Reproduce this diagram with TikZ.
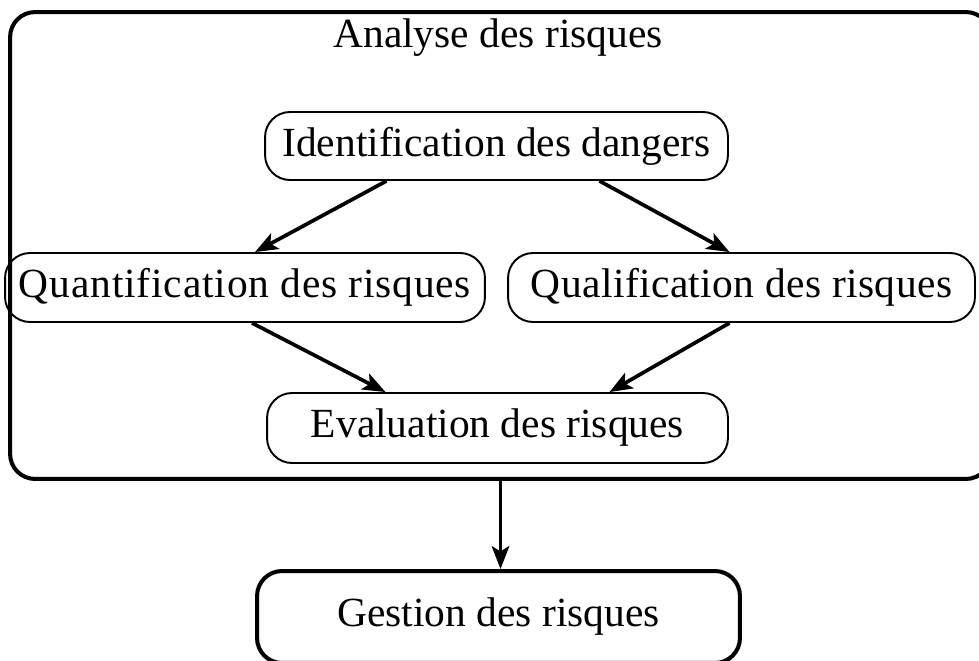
\documentclass[tikz,border=0pt]{standalone}
\usepackage{fontspec}
\setmainfont{Liberation Serif}
\usetikzlibrary{arrows.meta,calc}

\begin{document}
\begin{tikzpicture}[x=0.02cm,y=-0.02cm,
        font=\fontsize{23.6}{28}\selectfont,
        etape/.style={draw, line width=1.1pt, rounded corners=0.5cm, minimum height=1.38cm, inner sep=0pt},
        cadre/.style={draw, line width=2.3pt, rounded corners=0.5cm, inner sep=0pt},
        fleche/.style={-{Stealth[length=13pt,width=10pt,inset=3pt]}, line width=2.1pt}]
        \useasboundingbox (0,0) rectangle (979,660);
        \clip (0,0) rectangle (979,660);

        \node[cadre, minimum width=19.62cm, minimum height=9.34cm] (analyse) at (500.5,245.5) {};
        \node (titre) at (498,38) {Analyse des risques};

        \node[etape, minimum width=9.26cm, minimum height=1.36cm] (identification) at (496.5,146) {Identification des dangers};
        \node[etape, minimum width=9.6cm] (quantification) at (245,287.5) {\addfontfeature{LetterSpace=2}Quantification des risques};
        \node[etape, minimum width=9.34cm] (qualification) at (741.5,287.5) {\addfontfeature{LetterSpace=1}Qualification des risques};
        \node[etape, minimum width=9.22cm, minimum height=1.4cm] (evaluation) at (497.5,428) {Evaluation des risques};

        \node[cadre, minimum width=9.66cm, minimum height=1.84cm] (gestion) at (498.5,617) {Gestion des risques};

        
        \draw[fleche] ($(identification.south)+(-110,0)$) -- ($(quantification.north)+(10,0)$);
        \draw[fleche] ($(identification.south)+(103,0)$) -- ($(qualification.north)+(-12,0)$);

        
        \draw[fleche] ($(quantification.south)+(7,0)$) -- ($(evaluation.north)+(-112,0)$);
        \draw[fleche] ($(qualification.south)+(-12,0)$) -- ($(evaluation.north)+(112,0)$);

        \draw[fleche] (analyse.south) -- (analyse.south |- gestion.north);
    \end{tikzpicture}
\end{document}
